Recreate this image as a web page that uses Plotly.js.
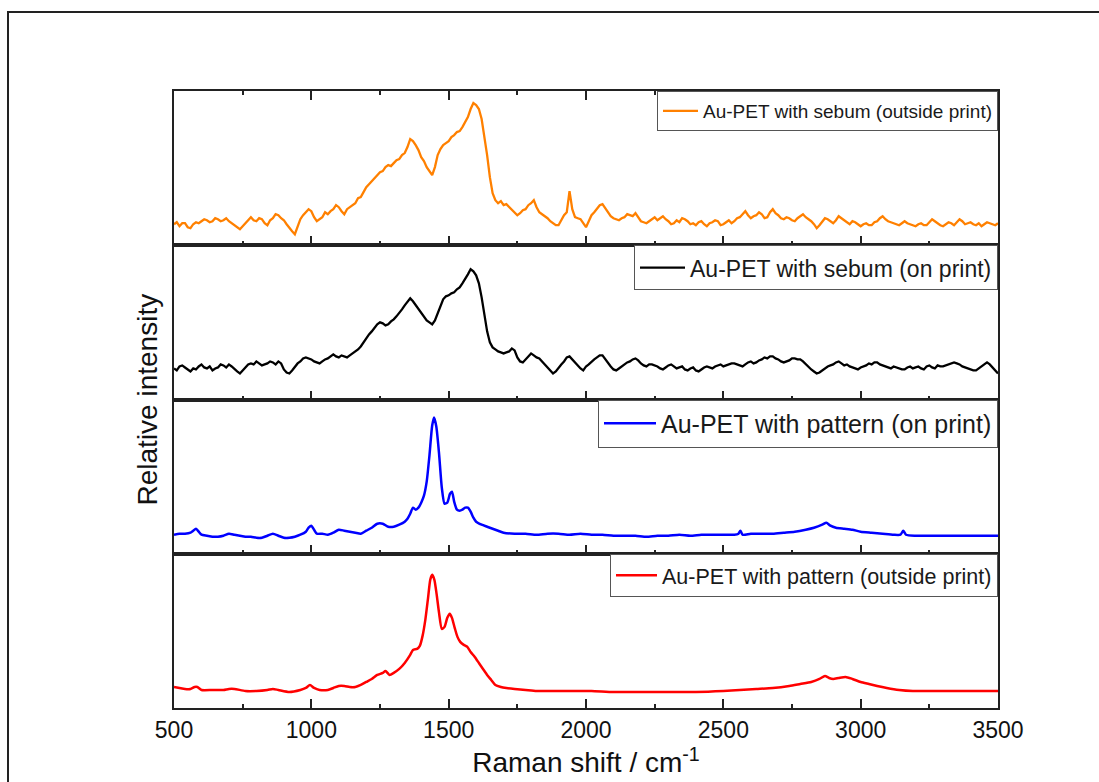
<!DOCTYPE html>
<html>
<head>
<meta charset="utf-8">
<script src="https://cdn.plot.ly/plotly-3.0.1.min.js"></script>
<style>
html,body{margin:0;padding:0;background:#fff;overflow:hidden;}
#wrap{position:relative;width:1099px;height:782px;overflow:hidden;}
#chart{position:absolute;left:0;top:0;width:1099px;height:782px;}
#frame{position:absolute;left:7px;top:11px;width:1200px;height:900px;border-left:2px solid #222;border-top:2px solid #222;pointer-events:none;}
</style>
</head>
<body>
<div id="wrap"><div id="chart"></div><div id="frame"></div></div>
<script>
// Raman shift (cm-1) and relative intensity (arbitrary units) for each spectrum
const sebumX = [500,510,520,530,540,550,560,570,580,590,600,610,620,630,640,650,660,670,680,690,700,710,720,730,740,750,760,770,780,790,800,810,820,830,840,850,860,870,880,890,900,910,920,930,940,950,960,970,980,990,1000,1010,1020,1030,1040,1050,1060,1070,1080,1090,1100,1110,1120,1130,1140,1150,1160,1170,1180,1190,1200,1210,1220,1230,1240,1250,1260,1270,1280,1290,1300,1310,1320,1330,1340,1350,1360,1370,1380,1390,1400,1410,1420,1430,1440,1450,1460,1470,1480,1490,1500,1510,1520,1530,1540,1550,1560,1570,1580,1590,1600,1610,1620,1630,1640,1650,1660,1670,1680,1690,1700,1710,1720,1730,1740,1750,1760,1770,1780,1790,1800,1810,1820,1830,1840,1850,1860,1870,1880,1890,1900,1910,1920,1930,1940,1950,1960,1970,1980,1990,2000,2010,2020,2030,2040,2050,2060,2070,2080,2090,2100,2110,2120,2130,2140,2150,2160,2170,2180,2190,2200,2210,2220,2230,2240,2250,2260,2270,2280,2290,2300,2310,2320,2330,2340,2350,2360,2370,2380,2390,2400,2410,2420,2430,2440,2450,2460,2470,2480,2490,2500,2510,2520,2530,2540,2550,2560,2570,2580,2590,2600,2610,2620,2630,2640,2650,2660,2670,2680,2690,2700,2710,2720,2730,2740,2750,2760,2770,2780,2790,2800,2810,2820,2830,2840,2850,2860,2870,2880,2890,2900,2910,2920,2930,2940,2950,2960,2970,2980,2990,3000,3010,3020,3030,3040,3050,3060,3070,3080,3090,3100,3110,3120,3130,3140,3150,3160,3170,3180,3190,3200,3210,3220,3230,3240,3250,3260,3270,3280,3290,3300,3310,3320,3330,3340,3350,3360,3370,3380,3390,3400,3410,3420,3430,3440,3450,3460,3470,3480,3490,3500];

const sebumOutsideY = [
  21,23,19,22,22,18,17,21,23,22,
  24,26,25,23,24,27,26,24,25,27,
  24,22,20,18,16,19,22,26,28,25,
  24,27,26,22,20,25,27,31,30,27,
  25,21,17,14,11,19,26,30,33,36,
  34,28,24,26,28,33,31,34,36,40,
  38,34,31,36,38,40,42,47,48,53,
  58,61,64,66,69,73,74,78,80,79,
  82,85,86,90,92,98,106,104,100,95,
  88,84,78,74,70,78,90,96,100,102,
  104,108,110,113,114,118,123,128,136,142,
  140,136,126,110,90,68,52,45,42,44,
  40,41,38,36,33,30,32,35,36,40,
  42,45,38,33,31,29,27,24,22,20,
  20,25,30,33,54,36,28,27,26,22,
  18,24,30,33,36,40,41,37,32,29,
  27,26,25,27,28,31,30,29,32,28,
  24,23,22,24,26,28,25,27,29,26,
  24,21,22,25,23,27,26,24,21,22,
  20,23,24,21,19,22,23,25,24,20,
  21,23,25,22,24,27,28,31,34,30,
  27,29,30,33,31,27,28,33,36,32,
  30,27,26,28,27,25,24,27,29,31,
  28,26,24,21,17,20,24,27,26,24,
  22,25,29,27,25,23,21,24,23,21,
  19,21,22,20,20,23,24,27,29,26,
  24,23,22,21,20,22,24,22,21,20,
  19,21,22,20,20,23,26,24,22,20,
  19,21,23,22,20,23,26,24,21,22,
  23,21,20,22,19,21,23,22,21,20,
  22];

const sebumOnY = [
  31,29,33,34,32,30,28,31,30,33,
  35,32,31,33,29,31,32,35,34,32,
  35,33,30,28,26,29,33,35,36,35,
  38,36,34,35,36,38,37,35,38,36,
  30,27,26,29,33,36,38,41,42,41,
  40,38,37,36,38,40,41,43,45,43,
  42,44,43,42,44,46,48,50,53,57,
  62,65,68,72,75,77,76,74,75,78,
  80,83,86,90,94,98,101,98,94,90,
  86,82,79,77,75,79,86,93,100,103,
  104,106,107,110,112,116,120,125,130,128,
  124,116,102,86,68,57,52,50,48,47,
  46,47,48,51,49,42,38,37,40,44,
  46,44,42,41,38,35,33,30,26,28,
  32,35,38,42,43,40,36,33,31,29,
  33,35,38,40,42,44,44,40,36,33,
  30,29,31,33,35,37,38,40,41,39,
  36,34,33,35,35,34,33,31,30,32,
  34,35,33,31,32,33,30,29,31,32,
  29,28,30,32,33,32,31,33,34,35,
  33,34,35,36,36,35,34,33,35,37,
  38,36,37,39,40,42,41,43,43,41,
  40,38,37,38,39,41,41,40,40,38,
  35,33,30,28,26,27,29,31,33,34,
  35,37,38,36,34,35,33,32,31,30,
  32,33,34,36,35,37,37,35,34,33,
  32,31,33,32,31,30,30,32,33,31,
  32,33,31,30,33,34,32,31,34,33,
  33,34,35,36,37,36,35,33,32,31,
  30,29,29,31,33,35,37,35,32,29,
  26];

const patternOnX = [500,520,540,560,570,580,590,600,620,640,660,680,700,720,740,760,780,800,820,840,860,880,900,920,940,960,980,990,1000,1010,1020,1040,1060,1080,1100,1120,1140,1160,1180,1200,1220,1240,1260,1280,1300,1320,1340,1350,1360,1370,1380,1390,1400,1410,1420,1430,1440,1447,1455,1465,1475,1485,1495,1505,1512,1520,1530,1540,1550,1560,1570,1580,1590,1600,1620,1640,1660,1680,1700,1740,1780,1820,1860,1900,1940,1980,2020,2060,2100,2140,2180,2220,2260,2300,2340,2380,2420,2460,2500,2540,2555,2562,2570,2600,2640,2680,2720,2760,2800,2830,2860,2875,2890,2910,2940,2970,3000,3040,3080,3120,3145,3155,3165,3200,3260,3320,3380,3440,3500];
const patternOnY = [19,20,20,21,23,25,22,19,18,17,17,18,20,19,18,17,17,16,16,18,20,18,16,16,17,19,22,26,28,24,20,20,19,21,24,23,22,21,20,23,26,30,30,27,27,29,32,35,40,46,44,46,51,58,72,98,128,136,127,100,66,50,51,60,62,52,44,43,44,46,46,42,36,32,29,27,25,23,21,20,20,19,20,20,19,20,19,19,18,18,18,17,18,18,19,18,19,19,19,19,20,23,19,20,20,20,21,22,24,26,29,31,28,26,25,24,22,21,20,19,19,23,19,18,18,18,18,18,18];

const patternOutsideX = [500,520,540,560,575,585,600,640,680,700,720,760,800,840,860,880,920,960,980,995,1010,1030,1060,1080,1100,1120,1140,1160,1180,1200,1220,1240,1260,1270,1285,1300,1320,1340,1360,1370,1385,1395,1405,1415,1425,1433,1440,1448,1456,1465,1475,1485,1495,1504,1512,1522,1532,1542,1555,1568,1580,1595,1610,1625,1640,1655,1670,1690,1710,1740,1780,1820,1860,1900,1940,1980,2020,2100,2200,2300,2400,2500,2560,2620,2680,2740,2780,2820,2850,2870,2885,2900,2920,2945,2970,3000,3030,3060,3095,3140,3190,3250,3320,3400,3500];
const patternOutsideY = [21,20,19,19,21,21,18,18,18,19,19,17,17,18,19,18,16,18,20,23,20,18,18,20,22,22,21,21,23,26,29,33,35,37,33,35,39,45,53,58,59,62,72,88,110,128,133,128,114,95,79,81,90,94,90,80,71,66,63,61,56,51,45,39,33,28,23,21,20,19,18,17,17,17,17,17,17,16,16,16,16,17,18,19,20,22,24,26,29,32,30,29,30,31,29,26,24,22,20,18,17,17,17,17,17];

const seriesNames = [
  'Au-PET with pattern (outside print)',
  'Au-PET with pattern (on print)',
  'Au-PET with sebum (on print)',
  'Au-PET with sebum (outside print)'
];
const xTickVals = [500,1000,1500,2000,2500,3000,3500];

const FONT = 'Liberation Sans, Arial, sans-serif';
const AX = '#222';

const traces = [
  {x: patternOutsideX, y: patternOutsideY, xaxis:'x', yaxis:'y', legend:'legend', name: seriesNames[0], mode:'lines', line:{color:'#FF0000', width:2.5, shape:'spline', smoothing:0.6}},
  {x: patternOnX, y: patternOnY, xaxis:'x2', yaxis:'y2', legend:'legend2', name: seriesNames[1], mode:'lines', line:{color:'#0000FF', width:2.5, shape:'spline', smoothing:0.6}},
  {x: sebumX, y: sebumOnY, xaxis:'x3', yaxis:'y3', legend:'legend3', name: seriesNames[2], mode:'lines', line:{color:'#000000', width:2.3}},
  {x: sebumX, y: sebumOutsideY, xaxis:'x4', yaxis:'y4', legend:'legend4', name: seriesNames[3], mode:'lines', line:{color:'#FF8000', width:2.3}}
];

function xax(anchor, top, labels) {
  return {
    anchor: anchor, range:[500,3500], showline:true, linecolor:AX, linewidth:2,
    mirror: top ? 'allticks' : true, ticks:'inside', ticklen:9, tickwidth:2, tickcolor:AX,
    tickvals: xTickVals, showticklabels: labels, showgrid:false, zeroline:false,
    tickfont:{family:FONT, size:23, color:'#111'},
    minor:{dtick:250, tick0:500, ticks:'inside', ticklen:4, tickwidth:2, tickcolor:AX, showgrid:false}
  };
}
function yax(anchor, dom) {
  return {anchor: anchor, domain: dom, range:[0,154], showline:true, linecolor:AX, linewidth:2, mirror:true,
    ticks:'', showticklabels:false, showgrid:false, zeroline:false, fixedrange:true};
}
function leg(yTop, size, iw) {
  return {x:1, xanchor:'right', y:yTop, yanchor:'top', bgcolor:'#fff', bordercolor:'#555', borderwidth:1,
    font:{family:FONT, size:size, color:'#1a1a1a'}, itemwidth:iw, tracegroupgap:0};
}

const xa1 = xax('y', false, true);
xa1.title = {text:'Raman shift / cm<sup>-1</sup>', font:{family:FONT, size:28, color:'#111'}, standoff:4};

const layout = {
  width:1099, height:782,
  margin:{l:174, r:101, t:91, b:74},
  paper_bgcolor:'#fff', plot_bgcolor:'#fff',
  showlegend:true,
  xaxis: xa1,
  xaxis2: Object.assign(xax('y2', false, false), {matches:'x'}),
  xaxis3: Object.assign(xax('y3', false, false), {matches:'x'}),
  xaxis4: Object.assign(xax('y4', true, false), {matches:'x'}),
  yaxis: yax('x', [0,0.25]),
  yaxis2: yax('x2', [0.25,0.5]),
  yaxis3: yax('x3', [0.5,0.75]),
  yaxis4: yax('x4', [0.75,1]),
  legend: leg(0.25, 21.5, 41),
  legend2: leg(0.5, 25, 52),
  legend3: leg(0.75, 23, 45),
  legend4: leg(1, 19, 35),
  annotations:[{text:'Relative intensity', textangle:-90, xref:'paper', yref:'paper', x:-0.0316, y:0.5,
    xanchor:'center', yanchor:'middle', showarrow:false, font:{family:FONT, size:28, color:'#111'}}]
};

Plotly.newPlot('chart', traces, layout, {displayModeBar:false, staticPlot:true});
</script>
</body>
</html>
